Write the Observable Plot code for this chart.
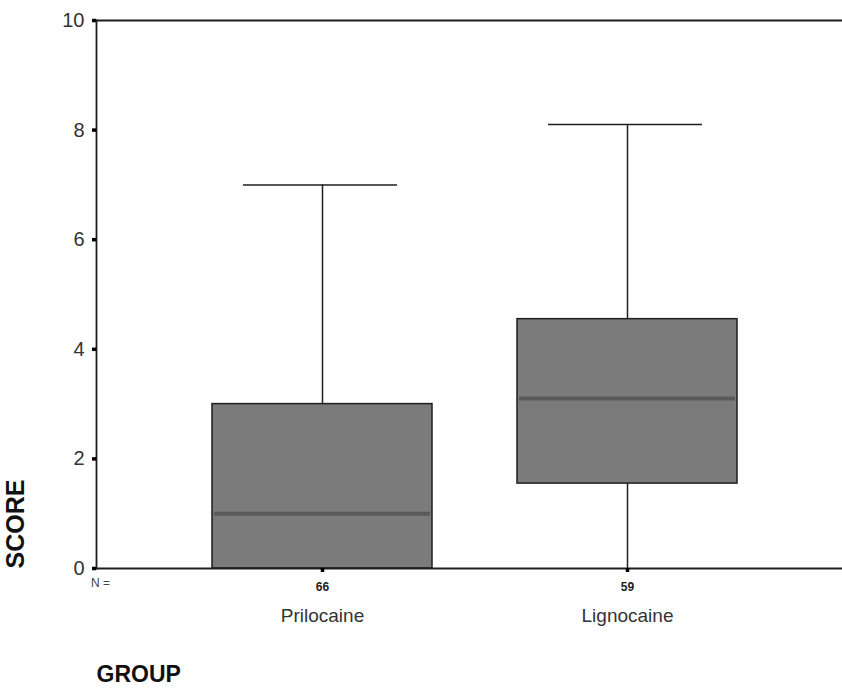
<!DOCTYPE html>
<html><head><meta charset="utf-8">
<script src="https://cdn.jsdelivr.net/npm/d3@7"></script>
<script src="https://cdn.jsdelivr.net/npm/@observablehq/plot@0.6"></script>
<style>body{margin:0;background:#fff;overflow:hidden}</style>
</head><body><div id="chart"></div>
<script>
const groups = ["Prilocaine", "Lignocaine"];
const counts = [66, 59];
const whiskerLow = [0, 0];
const q1 = [0, 1.55];
const median = [1.0, 3.1];
const q3 = [3.0, 4.55];
const whiskerHigh = [7.0, 8.1];
const yTicks = [0, 2, 4, 6, 8, 10];

const data = groups.map((g, i) => ({group: g, n: counts[i], lo: whiskerLow[i], q1: q1[i], med: median[i], q3: q3[i], hi: whiskerHigh[i]}));
const nOf = Object.fromEntries(data.map(d => [d.group, d.n]));
const font = "'Liberation Sans', Arial, sans-serif";
const ink = "#1e1e1e";

const chart = Plot.plot({
  width: 842, height: 693,
  marginLeft: 96, marginTop: 20, marginBottom: 125, marginRight: 0,
  style: {fontFamily: font, background: "#fff", overflow: "hidden", maxWidth: "none"},
  x: {type: "band", domain: groups, range: [96, 853], paddingInner: 0.279, paddingOuter: 0.38},
  y: {domain: [0, 10]},
  marks: [
    Plot.ruleY([10], {stroke: ink, strokeWidth: 1.8}),
    Plot.ruleX(data, {x: "group", y1: "lo", y2: "q1", stroke: ink, strokeWidth: 1.5}),
    Plot.ruleX(data, {x: "group", y1: "q3", y2: "hi", stroke: ink, strokeWidth: 1.5}),
    Plot.tickY(data, {x: "group", y: "hi", stroke: ink, strokeWidth: 1.5, insetLeft: 31, insetRight: 35}),
    Plot.rectY(data, {x: "group", y1: "q1", y2: "q3", fill: "#7b7b7b", stroke: ink, strokeWidth: 1.5}),
    Plot.tickY(data, {x: "group", y: "med", stroke: "#5a5a5a", strokeWidth: 4, insetLeft: 2, insetRight: 2}),
    Plot.ruleY([0], {stroke: ink, strokeWidth: 1.8}),
    Plot.frame({anchor: "left", stroke: ink, strokeWidth: 1.8}),
    Plot.axisY(yTicks, {tickSize: 4, strokeWidth: 3.5, tickPadding: 8, fontSize: 20, tickFormat: "d", label: null, stroke: "#000", fill: "#333"}),
    Plot.axisX({tickSize: 4, strokeWidth: 3.5, tickPadding: 10, fontSize: 12, fontWeight: "bold", tickFormat: d => nOf[d], label: null, stroke: "#000", fill: "#222"}),
    Plot.axisX({tickSize: 0, tickPadding: 40, fontSize: 19, label: null, fill: "#333"}),
    Plot.text(["N ="], {frameAnchor: "bottom-left", dx: 4, dy: 18.5, fontSize: 12, textAnchor: "middle", fill: "#444"}),
    Plot.text(["SCORE"], {frameAnchor: "bottom-left", rotate: -90, textAnchor: "start", dx: -73, fontSize: 25, fontWeight: "bold", fill: "#111"}),
    Plot.text(["GROUP"], {frameAnchor: "bottom-left", textAnchor: "start", dy: 113, fontSize: 23, fontWeight: "bold", fill: "#111"})
  ]
});
document.getElementById("chart").append(chart);
</script>
</body></html>
